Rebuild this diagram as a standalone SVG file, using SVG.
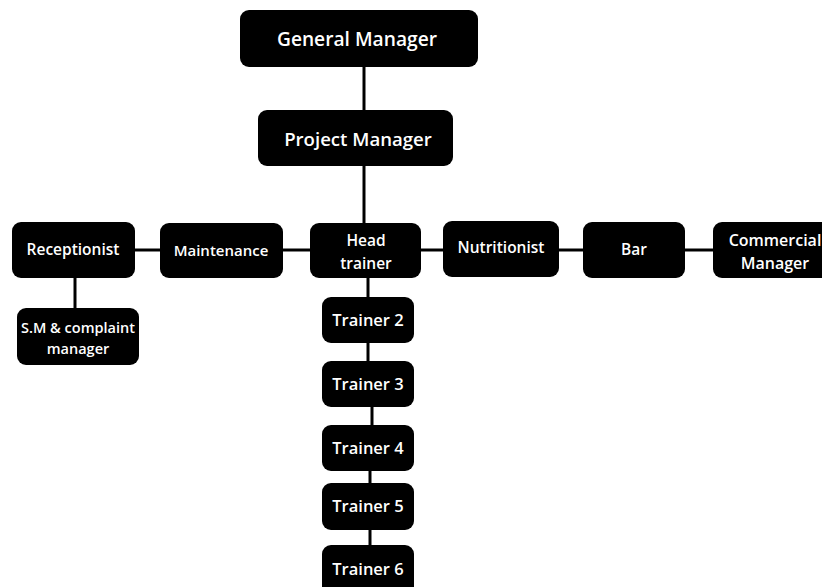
<svg xmlns="http://www.w3.org/2000/svg" width="822" height="587" viewBox="0 0 822 587">
<style>
.n rect{fill:#000;rx:9px;ry:9px}
.n text{fill:#fff;font-family:"Open Sans","Liberation Sans",sans-serif;font-weight:600;text-anchor:middle}
.c line{stroke:#000;stroke-width:3}
</style>
<rect width="822" height="587" fill="#fff"/>
<g id="connectors" class="c">
<line x1="364" y1="66" x2="364" y2="112"/>
<line x1="364" y1="164" x2="364" y2="225"/>
<line x1="133" y1="250" x2="162" y2="250"/>
<line x1="281" y1="250" x2="312" y2="250"/>
<line x1="419" y1="250" x2="445" y2="250"/>
<line x1="557" y1="250" x2="585" y2="250"/>
<line x1="683" y1="250" x2="715" y2="250"/>
<line x1="75" y1="276" x2="75" y2="310"/>
<line x1="368" y1="276" x2="368" y2="299"/>
<line x1="368" y1="341" x2="368" y2="363"/>
<line x1="372" y1="405" x2="372" y2="427"/>
<line x1="370" y1="469" x2="370" y2="485"/>
<line x1="370" y1="528" x2="370" y2="547"/>
</g>
<g id="general-manager" class="n"><rect x="240" y="10" width="238" height="57"/><text x="357" y="46" font-size="19.2">General Manager</text></g>
<g id="project-manager" class="n"><rect x="258" y="110" width="195" height="56"/><text x="358" y="146" font-size="18.6">Project Manager</text></g>
<g id="receptionist" class="n"><rect x="12" y="222" width="123" height="56"/><text x="73" y="255" font-size="15.5">Receptionist</text></g>
<g id="maintenance" class="n"><rect x="160" y="223" width="123" height="55"/><text x="221" y="256" font-size="15">Maintenance</text></g>
<g id="sm-complaint-manager" class="n"><rect x="17" y="308" width="122" height="57"/><text x="78" y="333" font-size="14.5">S.M &amp; complaint</text><text x="78" y="354" font-size="14.5">manager</text></g>
<g id="head-trainer" class="n"><rect x="310" y="223" width="111" height="55"/><text x="366" y="246" font-size="15.5">Head</text><text x="366" y="269" font-size="15.5">trainer</text></g>
<g id="nutritionist" class="n"><rect x="443" y="221" width="116" height="56"/><text x="501" y="253" font-size="15.5">Nutritionist</text></g>
<g id="bar" class="n"><rect x="583" y="222" width="102" height="56"/><text x="634" y="255" font-size="15.5">Bar</text></g>
<g id="commercial-manager" class="n"><rect x="713" y="222" width="118" height="56"/><text x="775" y="246" font-size="16">Commercial</text><text x="775" y="269" font-size="16">Manager</text></g>
<g id="trainer-2" class="n"><rect x="322" y="297" width="92" height="46"/><text x="368" y="326" font-size="16.5">Trainer 2</text></g>
<g id="trainer-3" class="n"><rect x="322" y="361" width="92" height="46"/><text x="368" y="390" font-size="16.5">Trainer 3</text></g>
<g id="trainer-4" class="n"><rect x="322" y="425" width="92" height="46"/><text x="368" y="454" font-size="16.5">Trainer 4</text></g>
<g id="trainer-5" class="n"><rect x="322" y="483" width="92" height="47"/><text x="368" y="512" font-size="16.5">Trainer 5</text></g>
<g id="trainer-6" class="n"><rect x="322" y="545" width="92" height="50"/><text x="368" y="575" font-size="16.5">Trainer 6</text></g>
</svg>
